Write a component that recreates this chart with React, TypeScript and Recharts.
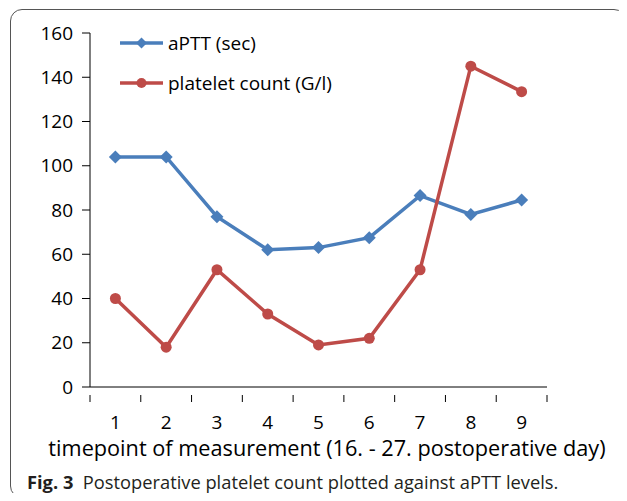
import React from 'react';
import { LineChart, Line, XAxis, YAxis } from 'recharts';

const timepoints = [1, 2, 3, 4, 5, 6, 7, 8, 9];
const aptt = [104, 104, 77, 62, 63, 67.5, 86.5, 78, 84.5];
const platelets = [40, 18, 53, 33, 19, 22, 53, 145, 133.5];
const yTicks = [0, 20, 40, 60, 80, 100, 120, 140, 160];
const xTicks = [0.5, 1, 1.5, 2, 2.5, 3, 3.5, 4, 4.5, 5, 5.5, 6, 6.5, 7, 7.5, 8, 8.5, 9, 9.5];
const legendItems = ['aPTT (sec)', 'platelet count (G/l)'];

const data = timepoints.map((t, i) => ({ t, aptt: aptt[i], plt: platelets[i] }));

const BLUE = '#4A7EBB';
const RED = '#BE4B48';
const FONT = '"Open Sans", sans-serif';

const Diamond = (props: any) => {
  const { cx, cy, fill } = props;
  if (cx == null || cy == null) return null;
  const r = 6.5;
  return <path d={`M${cx},${cy - r}L${cx + r},${cy}L${cx},${cy + r}L${cx - r},${cy}Z`} fill={fill} />;
};

const Circle = (props: any) => {
  const { cx, cy, fill } = props;
  if (cx == null || cy == null) return null;
  return <circle cx={cx} cy={cy} r={5.5} fill={fill} />;
};

const XTick = (props: any) => {
  const { x, y, payload } = props;
  const v = payload.value;
  if (Number.isInteger(v)) {
    return (
      <text x={x} y={y + 34} textAnchor="middle" fontSize={19} fontFamily={FONT} fill="#000">
        {v}
      </text>
    );
  }
  return <line x1={x} x2={x} y1={y} y2={y + 7} stroke="#000" strokeWidth={1} />;
};

const LegendBox = () => {
  const colors = [BLUE, RED];
  return (
    <svg width={280} height={70} style={{ position: 'absolute', left: 120, top: 33, overflow: 'visible' }}>
      {legendItems.map((label, i) => {
        const y = 10 + i * 40;
        const c = colors[i];
        return (
          <g key={label}>
            <line x1={0} x2={43} y1={y} y2={y} stroke={c} strokeWidth={3.5} />
            {i === 0 ? (
              <path d={`M21.5,${y - 5.5}L27,${y}L21.5,${y + 5.5}L16,${y}Z`} fill={c} />
            ) : (
              <circle cx={21.5} cy={y} r={5} fill={c} />
            )}
            <text x={48} y={y + 6.5} fontSize={19} fontFamily={FONT} fill="#000">
              {label}
            </text>
          </g>
        );
      })}
    </svg>
  );
};

export default function App() {
  return (
    <div style={{ position: 'relative', width: 627, height: 501, margin: -8, background: '#fff', overflow: 'hidden' }}>
      <div
        style={{
          position: 'absolute',
          left: 10,
          top: 9,
          width: 614,
          height: 487,
          border: '1.5px solid #555',
          borderRadius: 12,
        }}
      />
      <div style={{ position: 'absolute', left: 0, top: 0 }}>
        <LineChart width={627} height={501} data={data} margin={{ top: 33, right: 80, bottom: 74, left: 10 }}>
          <XAxis
            dataKey="t"
            type="number"
            domain={[0.5, 9.5]}
            ticks={xTicks}
            interval={0}
            tickLine={false}
            tick={<XTick />}
            axisLine={{ stroke: '#000', strokeWidth: 1 }}
            height={40}
          />
          <YAxis
            domain={[0, 160]}
            ticks={yTicks}
            interval={0}
            tickSize={8}
            tickMargin={9}
            width={80}
            axisLine={{ stroke: '#000', strokeWidth: 1 }}
            tickLine={{ stroke: '#000', strokeWidth: 1 }}
            tick={{ fontSize: 19, fontFamily: FONT, fill: '#000' }}
          />
          <Line
            dataKey="aptt"
            stroke={BLUE}
            strokeWidth={3.5}
            dot={<Diamond fill={BLUE} />}
            activeDot={false}
            isAnimationActive={false}
          />
          <Line
            dataKey="plt"
            stroke={RED}
            strokeWidth={3.5}
            dot={<Circle fill={RED} />}
            activeDot={false}
            isAnimationActive={false}
          />
        </LineChart>
      </div>
      <LegendBox />
      <div
        style={{
          position: 'absolute',
          left: 0,
          width: 654,
          top: 437,
          lineHeight: '22px',
          textAlign: 'center',
          fontFamily: FONT,
          fontSize: 21.7,
          color: '#000',
          whiteSpace: 'nowrap',
        }}
      >
        timepoint of measurement (16. - 27. postoperative day)
      </div>
      <div
        style={{
          position: 'absolute',
          left: 27,
          top: 469,
          fontFamily: FONT,
          fontSize: 18.3,
          color: '#231f20',
          whiteSpace: 'nowrap',
        }}
      >
        <b>Fig. 3</b>&nbsp;&nbsp;Postoperative platelet count plotted against aPTT levels.
      </div>
    </div>
  );
}
